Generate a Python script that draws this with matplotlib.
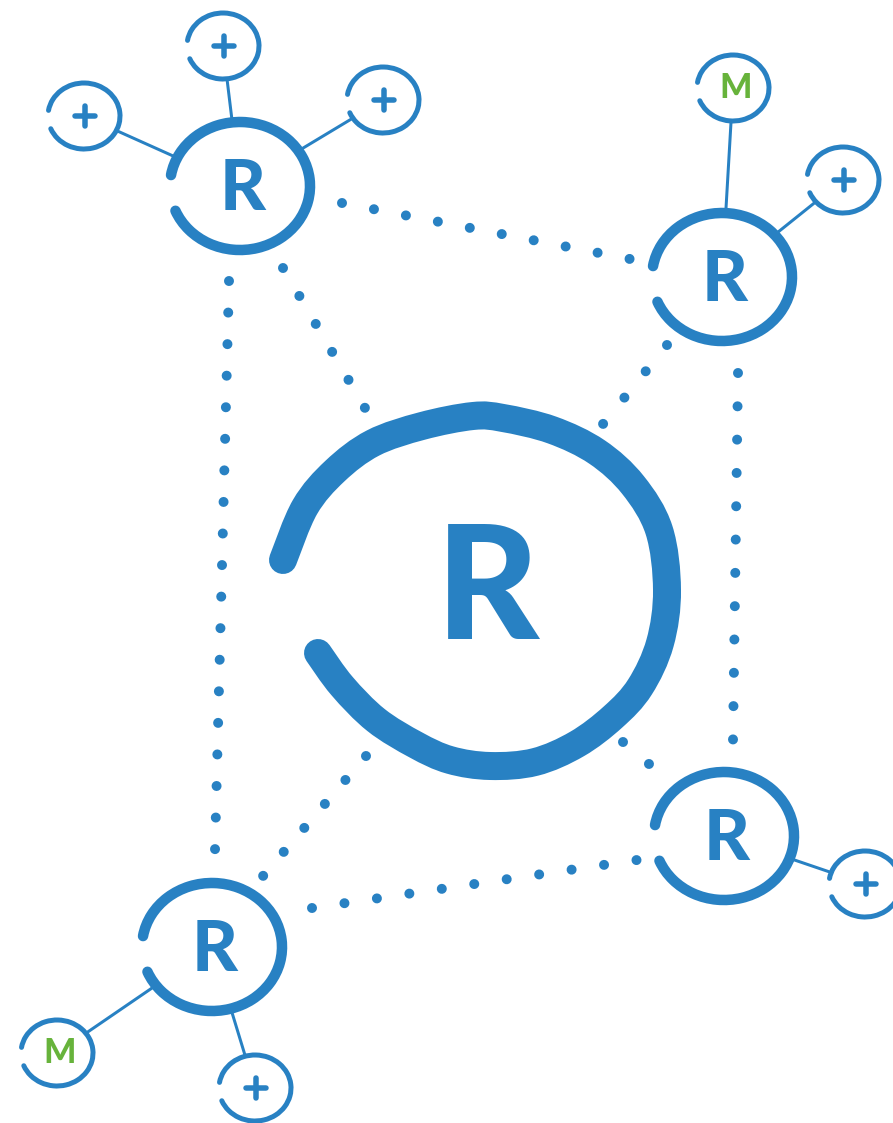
import matplotlib
matplotlib.use("Agg")
import matplotlib.pyplot as plt
import numpy as np
from matplotlib.patches import Arc, PathPatch
from matplotlib.path import Path

BLUE = "#2881c3"
GREEN = "#67b33b"
W, H = 893, 1123
PT = 72.0 / 100.0  # points per pixel at dpi 100

# hand-drawn hub ring, centreline (pixels, y down)
HUB_RING = [
    (318, 653), (342, 686), (376, 720), (416, 745), (450, 760), (490, 766),
    (535, 762), (577, 744), (613, 717), (640, 687), (660, 643), (667, 590),
    (659, 530), (633, 485), (597, 452), (552, 430), (503, 418), (473, 416),
    (422, 426), (373, 443), (335, 471), (305, 507), (283, 560),
]
HUB_LABEL = "R"
HUB_LABEL_XY = (488, 639)

# the four R nodes
NODE_X = [240, 722, 724, 212]
NODE_Y = [186, 277, 836, 947]
NODE_LABEL = ["R", "R", "R", "R"]

# small satellites hanging off the nodes
SAT_X = [84, 223, 383, 733, 843, 865, 57, 255]
SAT_Y = [116, 46, 100, 88, 180, 884, 1053, 1088]
SAT_LABEL = ["+", "+", "+", "M", "+", "+", "M", "+"]
SAT_PARENT = [0, 0, 0, 1, 1, 2, 3, 3]

# dotted links: first dot, last dot, number of dots
DOT_FROM = [(342, 203), (229, 281), (283, 268), (667, 345),
            (738, 373), (623, 742), (366, 756), (312, 908)]
DOT_TO = [(630, 259), (215, 850), (365, 408), (603, 424),
          (733, 740), (649, 764), (263, 876), (637, 860)]
DOT_COUNT = [10, 19, 6, 4, 12, 2, 6, 11]

NODE_RX, NODE_RY = 70, 64
SAT_RX, SAT_RY = 36, 33
GAP = (189, 519)  # open arc, gap on the left side

plt.rcParams["lines.scale_dashes"] = False


def smooth_path(pts):
    # Catmull-Rom through the points, as cubic bezier segments
    p = np.asarray(pts, dtype=float)
    ext = np.vstack([p[0], p, p[-1]])
    verts = [p[0]]
    codes = [Path.MOVETO]
    for i in range(1, len(p)):
        p0, p1, p2, p3 = ext[i - 1], ext[i], ext[i + 1], ext[i + 2]
        verts += [p1 + (p2 - p0) / 6.0, p2 - (p3 - p1) / 6.0, p2]
        codes += [Path.CURVE4] * 3
    return Path(verts, codes)


def ellipse_hit(cx, cy, rx, ry, ux, uy):
    s = 1.0 / np.hypot(ux / rx, uy / ry)
    return cx + ux * s, cy + uy * s


fig = plt.figure(figsize=(W / 100, H / 100), dpi=100)
ax = fig.add_axes([0, 0, 1, 1])
ax.set_xlim(0, W)
ax.set_ylim(H, 0)
ax.axis("off")

# connectors node -> satellite
for sx, sy, parent in zip(SAT_X, SAT_Y, SAT_PARENT):
    nx, ny = NODE_X[parent], NODE_Y[parent]
    d = np.array([sx - nx, sy - ny], dtype=float)
    d /= np.linalg.norm(d)
    a = ellipse_hit(nx, ny, NODE_RX, NODE_RY, d[0], d[1])
    b = ellipse_hit(sx, sy, SAT_RX, SAT_RY, -d[0], -d[1])
    ax.plot([a[0], b[0]], [a[1], b[1]], color=BLUE, lw=3 * PT,
            solid_capstyle="butt", zorder=1)

# dotted links
for (x0, y0), (x1, y1), n in zip(DOT_FROM, DOT_TO, DOT_COUNT):
    step = np.hypot(x1 - x0, y1 - y0) / (n - 1) * 0.998
    ax.plot([x0, x1], [y0, y1], color=BLUE, lw=10 * PT,
            linestyle=(0, (0.01, step * PT)), dash_capstyle="round", zorder=2)

# hub
ax.add_patch(PathPatch(smooth_path(HUB_RING), fill=False, edgecolor=BLUE,
                       lw=28 * PT, capstyle="round", joinstyle="round", zorder=3))
ax.text(HUB_LABEL_XY[0], HUB_LABEL_XY[1], HUB_LABEL, color=BLUE, fontsize=114.5,
        family="Lato", fontweight="black", ha="center", va="baseline", zorder=4)

# nodes
for nx, ny, lab in zip(NODE_X, NODE_Y, NODE_LABEL):
    ax.add_patch(Arc((nx, ny), 2 * NODE_RX, 2 * NODE_RY, theta1=GAP[0], theta2=GAP[1],
                     color=BLUE, lw=10.5 * PT, capstyle="round", zorder=3))
    ax.text(nx + 3, ny + 24, lab, color=BLUE, fontsize=51, family="Lato",
            fontweight="black", ha="center", va="baseline", zorder=4)

# satellites
for sx, sy, lab in zip(SAT_X, SAT_Y, SAT_LABEL):
    ax.add_patch(Arc((sx, sy), 2 * SAT_RX, 2 * SAT_RY, theta1=GAP[0], theta2=GAP[1],
                     color=BLUE, lw=5 * PT, capstyle="round", zorder=3))
    if lab == "+":
        cx, cy = sx + 1, sy
        ax.plot([cx - 10, cx + 10], [cy, cy], color=BLUE, lw=5.5 * PT,
                solid_capstyle="round", zorder=4)
        ax.plot([cx, cx], [cy - 10, cy + 10], color=BLUE, lw=5.5 * PT,
                solid_capstyle="round", zorder=4)
    else:
        ax.text(sx + 3, sy + 10, lab, color=GREEN, fontsize=24.5, family="Lato",
                fontweight="black", ha="center", va="baseline", zorder=4)

fig.savefig("out.png", dpi=100, facecolor="white")
